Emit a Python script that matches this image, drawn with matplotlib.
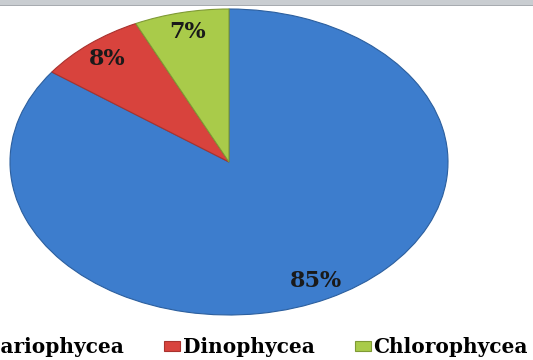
import matplotlib.pyplot as plt
from matplotlib.patches import Rectangle

# 数据
classes = ['Bacillariophycea', 'Dinophycea', 'Chlorophycea']
shares = [85, 8, 7]
colors = ['#3d7dcd', '#d8433d', '#a9cb4a']
edges = ['#2c5f9e', '#a9322e', '#7f9a35']

plt.rcParams['font.family'] = ['DejaVu Serif']
plt.rcParams['font.weight'] = 'bold'

fig = plt.figure(figsize=(5.33, 3.6), dpi=100)

# 顶部灰条
fig.patches.append(Rectangle((0, 1 - 6 / 360), 1, 6 / 360, transform=fig.transFigure,
                             facecolor='#c9cdd1', edgecolor='none', zorder=0))
fig.patches.append(Rectangle((0, 1 - 6 / 360), 1, 1.5 / 360, transform=fig.transFigure,
                             facecolor='#a7abb0', edgecolor='none', zorder=0))

# 椭圆饼图：坐标轴不等比
ax = fig.add_axes([10 / 533, 45 / 360, 438 / 533, 306 / 360])
wedges, texts, autotexts = ax.pie(shares, colors=colors, startangle=90, counterclock=False,
                                  autopct='%d%%', pctdistance=0.87,
                                  wedgeprops=dict(linewidth=0.8),
                                  textprops=dict(fontsize=16, fontweight='bold', color='#1a1a1a'))
for w, ec in zip(wedges, edges):
    w.set_edgecolor(ec)
ax.set_aspect('auto')
ax.set_xlim(-1, 1)
ax.set_ylim(-1, 1)

leg = fig.legend(wedges, classes, loc='center right', bbox_to_anchor=(528 / 533, 13 / 360),
                 ncol=3, frameon=False, fontsize=14.5, handlelength=0.8, handleheight=0.4,
                 handletextpad=0.12, columnspacing=2.0, borderaxespad=0, borderpad=0)

fig.savefig('out.png', dpi=100)
